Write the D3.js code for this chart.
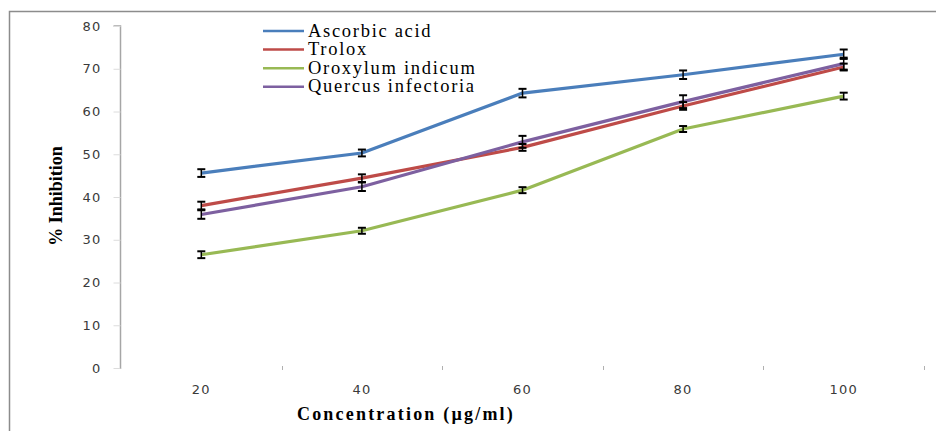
<!DOCTYPE html>
<html>
<head>
<meta charset="utf-8">
<script src="https://cdn.jsdelivr.net/npm/d3@7"></script>
<style>
  html, body { margin: 0; padding: 0; background: #fff; }
  svg { display: block; }
  .tick-label { font-family: "DejaVu Sans", Verdana, sans-serif; font-size: 13px; fill: #3a3a3a; letter-spacing: 1.2px; }
  .axis-title { font-family: "Liberation Serif", "Times New Roman", serif; font-weight: bold; font-size: 18px; fill: #000; }
  .legend-label { font-family: "Liberation Serif", "Times New Roman", serif; font-size: 18.5px; fill: #000; }
</style>
</head>
<body>
<div id="vis"></div>
<script>
// data
const concentrations = ['20', '40', '60', '80', '100'];
const seriesNames = ['Ascorbic acid', 'Trolox', 'Oroxylum indicum', 'Quercus infectoria'];
const seriesColors = ['#4a7ebb', '#be4b48', '#98b954', '#7d60a0'];
const ascorbic  = [45.6, 50.3, 64.3, 68.6, 73.4];
const trolox    = [38.0, 44.4, 51.6, 61.3, 70.4];
const oroxylum  = [26.5, 32.1, 41.6, 55.9, 63.6];
const quercus   = [35.9, 42.4, 52.9, 62.3, 71.2];
const ascorbicErr = [0.9, 0.8, 1.0, 1.0, 1.1];
const troloxErr   = [0.9, 0.9, 0.8, 0.9, 0.8];
const oroxylumErr = [0.8, 0.7, 0.7, 0.7, 0.8];
const quercusErr  = [1.0, 1.0, 1.4, 1.5, 1.4];
const yTicks = [0, 10, 20, 30, 40, 50, 60, 70, 80];

const values = [ascorbic, trolox, oroxylum, quercus];
const errors = [ascorbicErr, troloxErr, oroxylumErr, quercusErr];

const width = 936, height = 431;
const plot = { left: 121, right: 924, top: 26, bottom: 368 };

const svg = d3.select('#vis').append('svg')
  .attr('width', width)
  .attr('height', height);

// outer frame (only top and left edges show in the picture)
svg.append('path')
  .attr('d', `M9.5,${height} V11.5 H${width}`)
  .attr('fill', 'none')
  .attr('stroke', '#8c8c8c')
  .attr('stroke-width', 1.5);

const x = d3.scaleBand().domain(concentrations).range([plot.left, plot.right]);
const y = d3.scaleLinear().domain([0, 80]).range([plot.bottom, plot.top]);
const cx = c => x(c) + x.bandwidth() / 2;

// y axis
const yAxis = svg.append('g')
  .attr('transform', `translate(${plot.left - 0.5},0)`)
  .call(d3.axisLeft(y).tickValues(yTicks).tickSize(7).tickPadding(12));
yAxis.select('.domain').attr('stroke', '#a6a6a6').attr('stroke-width', 1.5)
  .attr('d', `M-7,${y(80)}H0V${plot.bottom + 1}`);
yAxis.selectAll('.tick line').attr('stroke', '#dcdcdc');
yAxis.selectAll('.tick text').attr('class', 'tick-label').attr('font-family', null).attr('font-size', null);

// x axis: no baseline, only small ticks at category boundaries
const xg = svg.append('g');
const bounds = concentrations.slice(1).map(c => x(c)).concat([x(concentrations[concentrations.length - 1]) + x.bandwidth()]);
xg.selectAll('line.xt').data(bounds).enter().append('line')
  .attr('x1', d => Math.round(d) + 0.5).attr('x2', d => Math.round(d) + 0.5)
  .attr('y1', plot.bottom - 2).attr('y2', plot.bottom + 2)
  .attr('stroke', '#b0b0b0');
xg.selectAll('text').data(concentrations).enter().append('text')
  .attr('class', 'tick-label')
  .attr('x', d => cx(d))
  .attr('y', 394)
  .attr('text-anchor', 'middle')
  .text(d => d);

// lines
const line = d3.line().x((d, i) => cx(concentrations[i])).y(d => y(d));
values.forEach((vals, s) => {
  svg.append('path')
    .datum(vals)
    .attr('d', line)
    .attr('fill', 'none')
    .attr('stroke', seriesColors[s])
    .attr('stroke-width', 3.2)
    .attr('stroke-linejoin', 'round');
});

// error bars
values.forEach((vals, s) => {
  const g = svg.append('g');
  vals.forEach((v, i) => {
    const px = cx(concentrations[i]);
    const lo = y(v - errors[s][i]), hi = y(v + errors[s][i]);
    g.append('line').attr('x1', px).attr('x2', px).attr('y1', lo).attr('y2', hi)
      .attr('stroke', '#000').attr('stroke-width', 1.5);
    [lo, hi].forEach(yy => {
      g.append('line').attr('x1', px - 4).attr('x2', px + 4).attr('y1', yy).attr('y2', yy)
        .attr('stroke', '#000').attr('stroke-width', 2);
    });
  });
});

// legend
const legend = svg.append('g').attr('transform', 'translate(263,31)');
seriesNames.forEach((name, i) => {
  const row = legend.append('g').attr('transform', `translate(0,${i * 18.6})`);
  row.append('line').attr('x1', 0).attr('x2', 41).attr('y1', 0).attr('y2', 0)
    .attr('stroke', seriesColors[i]).attr('stroke-width', 2.5);
  row.append('text').attr('class', 'legend-label')
    .attr('x', 45).attr('y', 5.5)
    .attr('letter-spacing', 1.7)
    .text(name);
});

// axis titles
svg.append('text').attr('class', 'axis-title')
  .attr('x', 406).attr('y', 420)
  .attr('text-anchor', 'middle')
  .attr('letter-spacing', 2.2)
  .text('Concentration (µg/ml)');

svg.append('text').attr('class', 'axis-title')
  .attr('transform', 'translate(62,196) rotate(-90)')
  .attr('text-anchor', 'middle')
  .text('% Inhibition');
</script>
</body>
</html>
